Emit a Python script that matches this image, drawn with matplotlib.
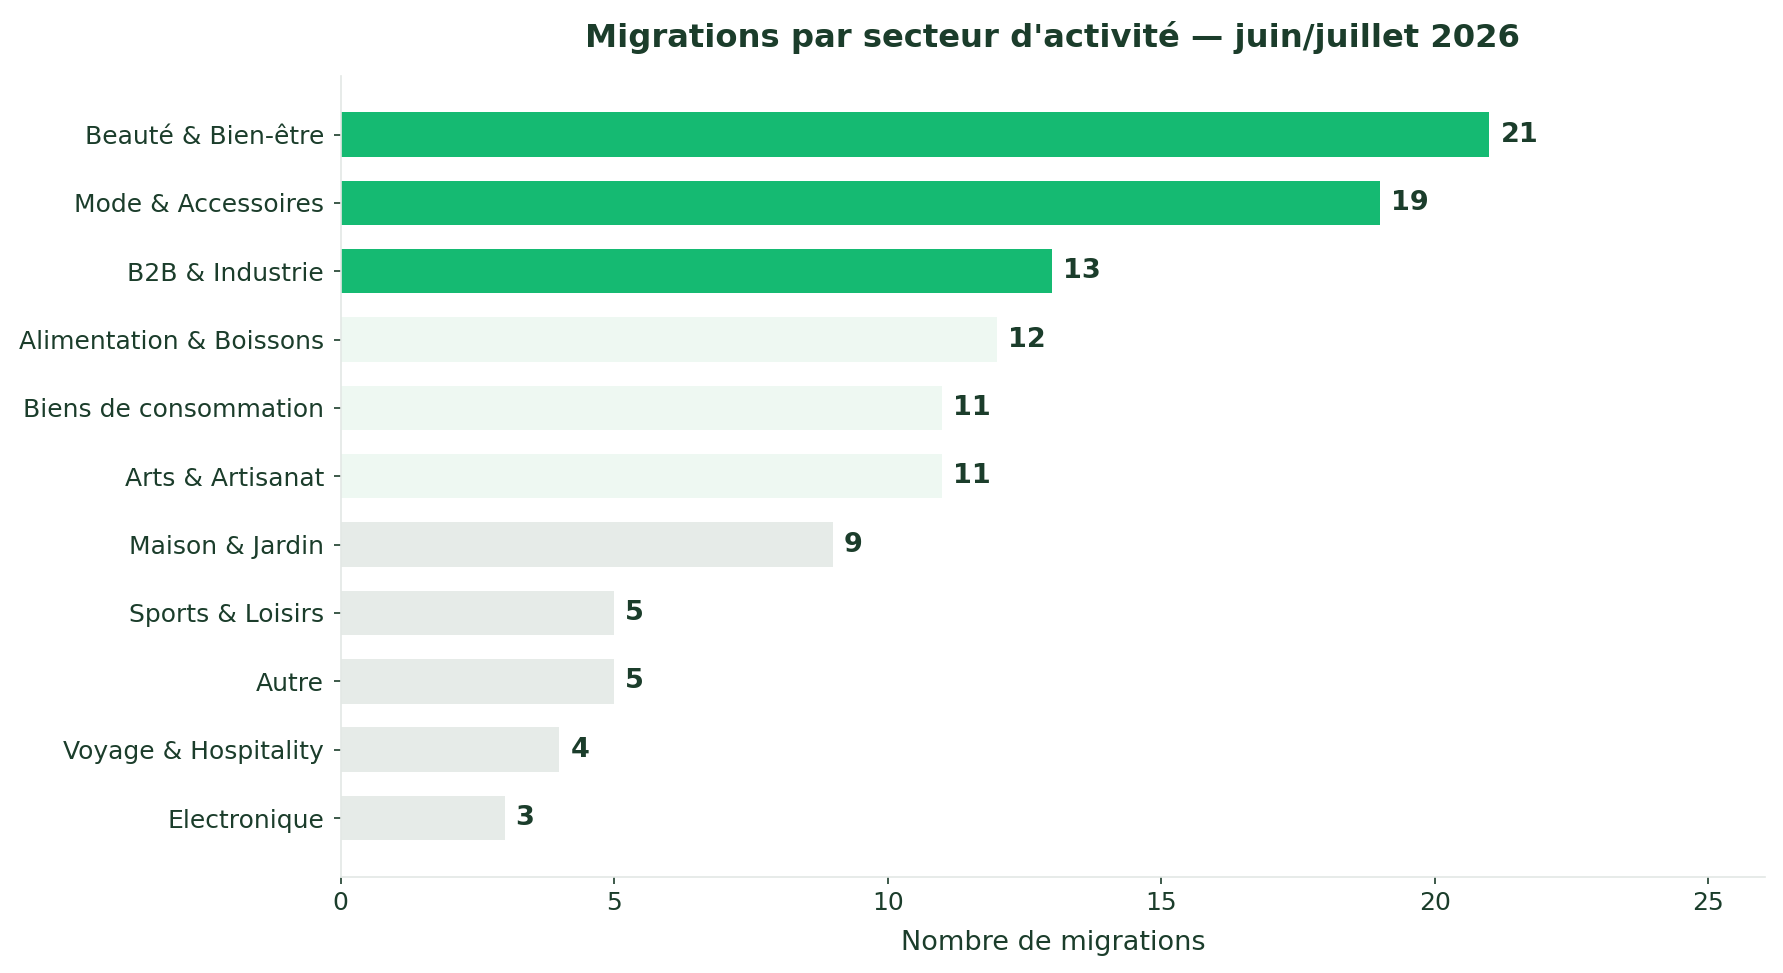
import matplotlib
matplotlib.use("Agg")
from matplotlib import pyplot as plt

secteurs = ["Beauté & Bien-être", "Mode & Accessoires", "B2B & Industrie",
            "Alimentation & Boissons", "Biens de consommation", "Arts & Artisanat",
            "Maison & Jardin", "Sports & Loisirs", "Autre",
            "Voyage & Hospitality", "Electronique"]
migrations = [21, 19, 13, 12, 11, 11, 9, 5, 5, 4, 3]

dark = "#1B3D2B"
couleurs = ["#15BA72"] * 3 + ["#EEF8F2"] * 3 + ["#E6EBE8"] * 5

fig = plt.figure(figsize=(1783 / 150, 973 / 150), dpi=150)
ax = fig.add_axes([0.191, 0.099, 0.799, 0.823])

y = list(range(len(secteurs)))
ax.barh(y, migrations, height=0.65, color=couleurs)
ax.invert_yaxis()
ax.set_yticks(y)
ax.set_yticklabels(secteurs, fontsize=12, color=dark)
ax.set_xlim(0, max(migrations) * 1.24)
ax.tick_params(axis="x", labelsize=12, colors=dark)
ax.tick_params(axis="y", colors=dark, pad=4.5)

for yi, v in zip(y, migrations):
    ax.text(v + 0.2, yi, str(v), va="center", ha="left",
            fontsize=13, fontweight="bold", color=dark)

ax.set_xlabel("Nombre de migrations", fontsize=13, color=dark, labelpad=7)
ax.set_title("Migrations par secteur d'activité — juin/juillet 2026",
             fontsize=15.5, fontweight="bold", color=dark, pad=14)

for s in ["top", "right"]:
    ax.spines[s].set_visible(False)
for s in ["left", "bottom"]:
    ax.spines[s].set_color("#E3E8E5")

fig.savefig("out.png", dpi=150)
